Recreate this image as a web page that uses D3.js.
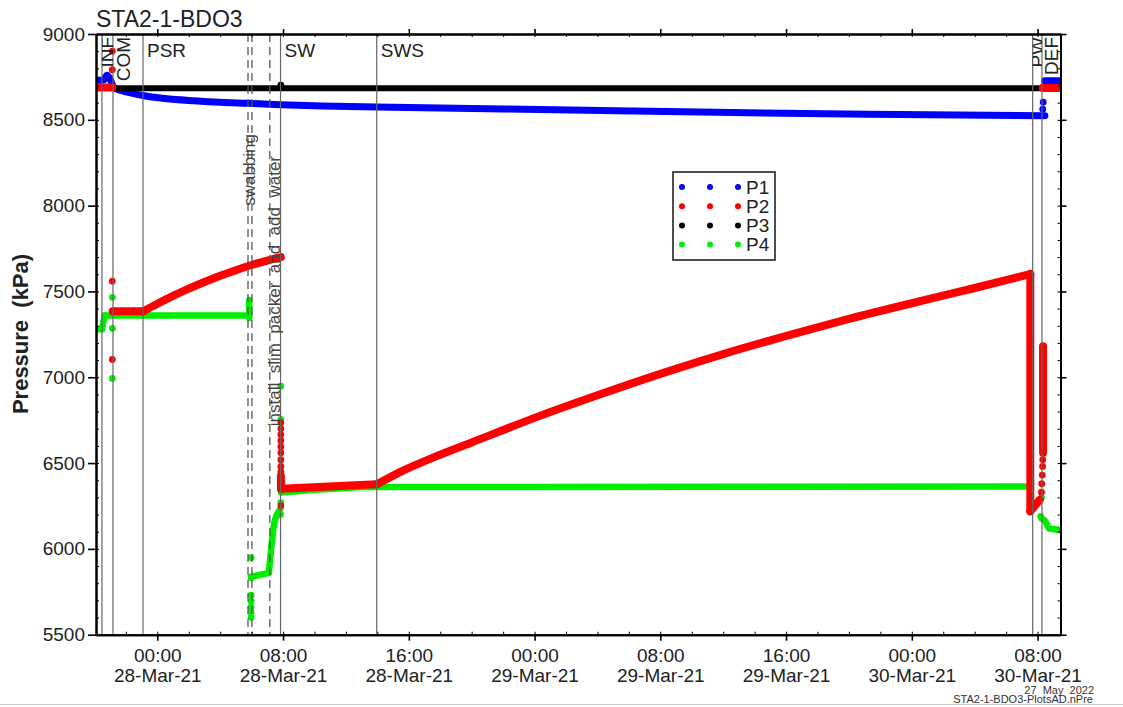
<!DOCTYPE html>
<html>
<head>
<meta charset="utf-8">
<script src="https://cdn.jsdelivr.net/npm/d3@7/dist/d3.min.js"></script>
<style>
  body { margin: 0; background: #fff; }
  .container { width: 1123px; height: 707px; }
  text { font-family: "Liberation Sans", Arial, sans-serif; fill: #222; }
</style>
</head>
<body>
<div class="container"></div>
<script>
// all hours are counted from 28-Mar-21 00:00
const t0 = Date.UTC(2021, 2, 28, 0, 0);
const xStart = -3.90, xEnd = 57.46;

const yTicks = [5500, 6000, 6500, 7000, 7500, 8000, 8500, 9000];
const yMinor = d3.range(5500, 9001, 100);

const eventNames = ["INF", "COM", "PSR", "SW", "SWS", "PW", "DEF"];
const eventHours = [-3.52, -2.82, -0.91, 7.84, 13.96, 55.69, 56.28];
const dashedHours = [5.77, 6.02, 7.16];
const noteTexts = ["swabbing", "install  slim  packer  and  add  water"];
const noteHours = [5.90, 7.49];

const legendNames = ["P1", "P2", "P3", "P4"];

// P1
const p1Lines = [
    [[-3.90, 8730], [-3.40, 8732], [-3.20, 8760], [-3.00, 8738], [-2.84, 8700], [-2.76, 8688],
     [-2.20, 8668], [-1.50, 8653], [-0.85, 8640], [0.50, 8624], [2.34, 8611], [4.00, 8602],
     [5.83, 8596], [7.87, 8588], [10.5, 8581], [13.97, 8575], [19.0, 8567], [24.3, 8560],
     [34.5, 8545], [45.3, 8532], [56.47, 8524]],
    [[56.45, 8728], [57.46, 8728]]
];
const p1Dots = [[56.33, 8562], [56.36, 8603]];

// P2
const p2Lines = [
    [[-3.90, 8689], [-2.86, 8689]],
    [[-2.84, 7384], [-0.89, 7384]],
    [[-0.89, 7384], [0, 7428], [1, 7474], [2, 7516], [3, 7555], [4, 7591], [5, 7624], [6, 7654],
     [7, 7680], [7.86, 7700]],
    [[7.86, 6425], [7.87, 6350]],
    [[7.87, 6350], [13.97, 6376]],
    [[13.97, 6376], [15.5, 6450], [17.5, 6530], [20, 6620], [24.34, 6775], [28, 6895], [32.35, 7030],
     [36, 7135], [40.37, 7250], [44, 7340], [48.38, 7440], [52, 7520], [55.54, 7602]],
    [[55.54, 7602], [55.54, 6219]],
    [[55.54, 6219], [56.15, 6287]],
    [[56.35, 6560], [56.35, 7180]],
    [[56.33, 8685], [57.46, 8685]]
];
const p2Dots = [
    [-2.86, 8900], [-2.86, 8792], [-2.86, 7560], [-2.86, 7104],
    [7.86, 6735], [7.86, 6700], [7.86, 6665], [7.86, 6630], [7.86, 6595], [7.86, 6560],
    [7.86, 6520], [7.86, 6480], [7.86, 6450], [7.86, 6252],
    [56.25, 6330], [56.27, 6380], [56.30, 6430], [56.32, 6480], [56.33, 6520], [56.32, 8690]
];

// P3
const p3Lines = [[[-2.76, 8684], [56.25, 8684]]];
const p3Dots = [[7.86, 8702]];

// P4
const p4Lines = [
    [[-3.90, 7280], [-3.52, 7280]],
    [[-3.52, 7280], [-3.35, 7360]],
    [[-3.35, 7360], [5.85, 7360]],
    [[5.85, 7345], [5.85, 7450]],
    [[5.97, 5838], [7.10, 5860]],
    [[7.10, 5860], [7.45, 6153], [7.82, 6230]],
    [[7.87, 6328], [13.97, 6360], [55.54, 6363]],
    [[56.25, 6178], [56.50, 6160], [56.75, 6118], [57.46, 6112]]
];
const p4Dots = [
    [-2.86, 7466], [-2.86, 7285], [-2.86, 6993],
    [5.97, 5949], [5.97, 5832], [5.97, 5730], [5.97, 5695], [5.97, 5662], [5.97, 5632], [5.97, 5602],
    [7.86, 6948], [7.86, 6754], [7.84, 6200], [7.86, 6270],
    [56.10, 6285], [56.25, 6300], [56.20, 6190]
];

let margin = {
    top: 34,
    right: 62.5,
    bottom: 72.3,
    left: 96
};
let width = 1123 - margin.left - margin.right;
let height = 707 - margin.top - margin.bottom;

let root = d3.select(".container")
    .append("svg")
    .attr("width", 1123)
    .attr("height", 707);

let svg = root.append("g")
    .attr("transform", "translate(" + margin.left + "," + margin.top + ")");

const T = h => new Date(t0 + h * 3600e3);

let x = d3.scaleUtc()
    .domain([T(xStart), T(xEnd)])
    .range([0, width]);

let y = d3.scaleLinear()
    .domain([5500, 9000])
    .range([height, 0]);

root.append("defs").append("clipPath")
    .attr("id", "plotclip")
    .append("rect")
    .attr("width", width)
    .attr("height", height);

let plot = svg.append("g").attr("clip-path", "url(#plotclip)");

// series
const series = [
    { color: "#00ee00", w: 6.5, lines: p4Lines, dots: p4Dots },
    { color: "#0000ff", w: 7, lines: p1Lines, dots: p1Dots },
    { color: "#000000", w: 6, lines: p3Lines, dots: p3Dots },
    { color: "#ff0000", w: 8, lines: p2Lines, dots: p2Dots }
];

let line = d3.line()
    .x(d => x(T(d[0])))
    .y(d => y(d[1]))
    .curve(d3.curveMonotoneX);

series.forEach(s => {
    let g = plot.append("g");
    g.selectAll("path")
        .data(s.lines)
        .enter()
        .append("path")
        .attr("d", line)
        .attr("fill", "none")
        .attr("stroke", s.color)
        .attr("stroke-width", s.w)
        .attr("stroke-linecap", "round")
        .attr("stroke-linejoin", "round");
    g.selectAll("circle")
        .data(s.dots)
        .enter()
        .append("circle")
        .attr("cx", d => x(T(d[0])))
        .attr("cy", d => y(d[1]))
        .attr("r", 3.4)
        .attr("fill", s.color);
});

// event lines
plot.selectAll(".event")
    .data(eventHours)
    .enter()
    .append("line")
    .attr("class", "event")
    .attr("x1", d => x(T(d)))
    .attr("x2", d => x(T(d)))
    .attr("y1", 0)
    .attr("y2", height)
    .attr("stroke", "#666")
    .attr("stroke-width", 1.2);

plot.selectAll(".dashed")
    .data(dashedHours)
    .enter()
    .append("line")
    .attr("class", "dashed")
    .attr("x1", d => x(T(d)))
    .attr("x2", d => x(T(d)))
    .attr("y1", 0)
    .attr("y2", height)
    .attr("stroke", "#555")
    .attr("stroke-width", 1.3)
    .attr("stroke-dasharray", "8,5");

// event labels
const rotated = ["INF", "COM", "PW", "DEF"];
eventNames.forEach((name, i) => {
    let ex = x(T(eventHours[i]));
    if (rotated.indexOf(name) >= 0) {
        let nx = i + 1 < eventHours.length ? x(T(eventHours[i + 1])) : width;
        let cx = Math.min((ex + nx) / 2, ex + 10);
        let id = "lab" + i;
        svg.append("clipPath").attr("id", id)
            .append("rect")
            .attr("x", ex).attr("y", 0)
            .attr("width", nx - ex).attr("height", 80);
        svg.append("g").attr("clip-path", "url(#" + id + ")")
            .append("text")
            .attr("transform", "translate(" + cx + ",3) rotate(-90)")
            .attr("text-anchor", "end")
            .attr("dy", "0.36em")
            .style("font-size", "19px")
            .text(name);
    } else {
        svg.append("text")
            .attr("x", ex + 4)
            .attr("y", 23)
            .style("font-size", "19px")
            .text(name);
    }
});

// notes beside the dashed lines
const noteTop = [100, 122];
noteTexts.forEach((t, i) => {
    svg.append("text")
        .attr("transform", "translate(" + x(T(noteHours[i])) + "," + noteTop[i] + ") rotate(-90)")
        .attr("text-anchor", "end")
        .attr("dy", "0.3em")
        .style("font-size", "17px")
        .style("white-space", "pre")
        .style("fill", "#444")
        .text(t);
});

// axes
let majorX = d3.utcHour.every(8).range(T(xStart), T(xEnd));
let minorX = d3.utcHour.every(2).range(T(xStart), T(xEnd));

const styleAxis = (g, w) => {
    g.select(".domain").attr("stroke", "#000").attr("stroke-width", 2);
    g.selectAll(".tick line").attr("stroke", "#000").attr("stroke-width", w);
};

let gxMinor = svg.append("g")
    .attr("transform", "translate(0," + height + ")")
    .call(d3.axisBottom(x).tickValues(minorX).tickSize(-3).tickSizeOuter(0).tickFormat(""));
styleAxis(gxMinor, 1);
let gtMinor = svg.append("g")
    .call(d3.axisTop(x).tickValues(minorX).tickSize(-3).tickSizeOuter(0).tickFormat(""));
styleAxis(gtMinor, 1);
let gyMinor = svg.append("g")
    .call(d3.axisLeft(y).tickValues(yMinor).tickSize(-3).tickSizeOuter(0).tickFormat(""));
styleAxis(gyMinor, 1);
let grMinor = svg.append("g")
    .attr("transform", "translate(" + width + ",0)")
    .call(d3.axisRight(y).tickValues(yMinor).tickSize(-3).tickSizeOuter(0).tickFormat(""));
styleAxis(grMinor, 1);

let gx = svg.append("g")
    .attr("transform", "translate(0," + height + ")")
    .call(d3.axisBottom(x).tickValues(majorX).tickSize(6).tickSizeOuter(0).tickFormat(""));
styleAxis(gx, 1.6);
gx.selectAll(".tick").append("text")
    .attr("text-anchor", "middle")
    .style("font-size", "19px")
    .each(function (d) {
        let t = d3.select(this);
        t.append("tspan").attr("x", 0).attr("y", 27).text(d3.utcFormat("%H:%M")(d));
        t.append("tspan").attr("x", 0).attr("y", 47).text(d3.utcFormat("%d-%b-%y")(d));
    });

let gt = svg.append("g")
    .call(d3.axisTop(x).tickValues(majorX).tickSize(5).tickSizeOuter(0).tickFormat(""));
styleAxis(gt, 1.6);

let gy = svg.append("g")
    .call(d3.axisLeft(y).tickValues(yTicks).tickSize(8).tickPadding(3).tickSizeOuter(0)
        .tickFormat(d3.format("d")));
styleAxis(gy, 1.6);
gy.selectAll(".tick text")
    .attr("font-family", null)
    .attr("font-size", null)
    .attr("fill", null)
    .style("font-size", "19px");

let gr = svg.append("g")
    .attr("transform", "translate(" + width + ",0)")
    .call(d3.axisRight(y).tickValues(yTicks).tickSize(6).tickSizeOuter(0).tickFormat(""));
styleAxis(gr, 1.6);

// titles
root.append("text")
    .attr("x", 96)
    .attr("y", 27)
    .style("font-size", "23px")
    .text("STA2-1-BDO3");

root.append("text")
    .attr("transform", "translate(28,334) rotate(-90)")
    .attr("text-anchor", "middle")
    .style("font-size", "22px")
    .style("font-weight", "bold")
    .style("white-space", "pre")
    .text("Pressure  (kPa)");

root.append("text")
    .attr("x", 1094)
    .attr("y", 694)
    .attr("text-anchor", "end")
    .style("font-size", "11px")
    .style("white-space", "pre")
    .style("fill", "#333")
    .text("27  May  2022");

root.append("text")
    .attr("x", 1093)
    .attr("y", 703)
    .attr("text-anchor", "end")
    .style("font-size", "11px")
    .style("fill", "#333")
    .text("STA2-1-BDO3-PlotsAD.nPre");

root.append("line")
    .attr("x1", 0).attr("x2", 1123)
    .attr("y1", 704.5).attr("y2", 704.5)
    .attr("stroke", "#ccc")
    .attr("stroke-width", 1);

// legend
const legendColors = ["#0000ff", "#ff0000", "#000000", "#00ee00"];
let legend = root.append("g").attr("transform", "translate(673,172)");
legend.append("rect")
    .attr("width", 102)
    .attr("height", 88)
    .attr("fill", "#fff")
    .attr("stroke", "#222")
    .attr("stroke-width", 1.6);
legendNames.forEach((n, i) => {
    let row = legend.append("g").attr("transform", "translate(0," + (15 + i * 19.2) + ")");
    [9, 37, 65].forEach(cx => {
        row.append("circle").attr("cx", cx).attr("cy", 0).attr("r", 3).attr("fill", legendColors[i]);
    });
    row.append("text")
        .attr("x", 73)
        .attr("y", 6.5)
        .style("font-size", "19px")
        .text(n);
});
</script>
</body>
</html>
